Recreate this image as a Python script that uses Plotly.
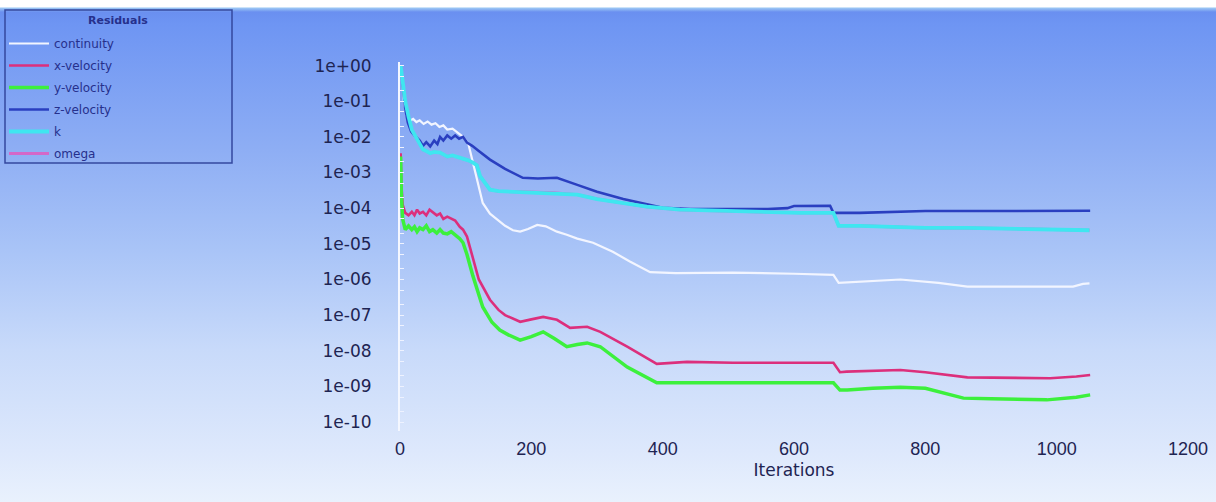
import base64
import plotly.graph_objects as go

# ---------------- data ----------------
continuity_x = [1, 3, 6, 10, 15, 20, 25, 30, 36, 42, 48, 54, 60, 66, 72, 80, 88, 96, 104, 111, 118, 126,
                137, 148, 160, 172, 183, 195, 209, 222, 239, 254, 270, 294, 324, 350, 381, 420, 507, 600,
                660, 668, 700, 762, 820, 864, 950, 1025, 1040, 1050]
continuity_y = [1.0, 4e-1, 1.0e-1, 4.0e-2, 2.8e-2, 3.2e-2, 2.6e-2, 2.9e-2, 2.3e-2, 2.7e-2, 2.2e-2, 2.4e-2,
                1.9e-2, 2.1e-2, 1.6e-2, 1.7e-2, 1.3e-2, 1.0e-2, 6.5e-3, 1.9e-3, 5.0e-4, 1.4e-4, 7.0e-5,
                4.7e-5, 3.2e-5, 2.4e-5, 2.2e-5, 2.6e-5, 3.4e-5, 3.1e-5, 2.2e-5, 1.8e-5, 1.4e-5, 1.07e-5,
                6.0e-6, 3.2e-6, 1.6e-6, 1.5e-6, 1.55e-6, 1.45e-6, 1.35e-6, 8.0e-7, 8.5e-7, 1.0e-6, 8.0e-7,
                6.3e-7, 6.3e-7, 6.3e-7, 7.5e-7, 7.8e-7]

xvel_x = [0, 1, 2, 4, 8, 13, 18, 22, 26, 30, 35, 40, 45, 50, 56, 61, 66, 72, 78, 84, 91, 96, 102, 111, 120,
          137, 150, 160, 183, 200, 218, 239, 259, 285, 305, 346, 391, 437, 507, 600, 660, 670, 680, 762,
          800, 864, 990, 1030, 1051]
xvel_y = [3.2e-3, 3.2e-3, 5.0e-4, 1.26e-4, 7.4e-5, 6.3e-5, 7.9e-5, 6.3e-5, 9.1e-5, 7.1e-5, 7.9e-5, 6.3e-5,
          9.1e-5, 7.9e-5, 6.3e-5, 7.1e-5, 5.0e-5, 5.8e-5, 5.0e-5, 4.5e-5, 3.0e-5, 2.5e-5, 1.6e-5, 4.3e-6,
          1.0e-6, 2.7e-7, 1.4e-7, 1.0e-7, 6.5e-8, 7.6e-8, 8.9e-8, 7.4e-8, 4.4e-8, 4.7e-8, 3.4e-8, 1.3e-8,
          4.3e-9, 4.9e-9, 4.6e-9, 4.6e-9, 4.6e-9, 2.5e-9, 2.6e-9, 2.9e-9, 2.5e-9, 1.8e-9, 1.7e-9, 1.9e-9,
          2.1e-9]

yvel_x = [0, 1, 2, 4, 8, 13, 18, 22, 26, 30, 35, 40, 45, 50, 56, 61, 66, 72, 78, 84, 91, 96, 102, 111, 126,
          140, 152, 165, 183, 200, 218, 235, 254, 270, 285, 305, 346, 391, 426, 507, 600, 660, 670, 681,
          720, 762, 800, 858, 900, 985, 1030, 1051]
yvel_y = [2.5e-3, 2.5e-3, 2.5e-4, 5.0e-5, 2.5e-5, 3.2e-5, 2.5e-5, 3.0e-5, 2.2e-5, 2.8e-5, 2.5e-5, 3.2e-5,
          2.2e-5, 2.5e-5, 2.0e-5, 2.5e-5, 2.0e-5, 1.9e-5, 2.2e-5, 1.8e-5, 1.4e-5, 1.07e-5, 5.0e-6, 1.26e-6,
          1.7e-7, 6.3e-8, 3.8e-8, 2.8e-8, 2.0e-8, 2.5e-8, 3.4e-8, 2.2e-8, 1.3e-8, 1.5e-8, 1.66e-8, 1.3e-8,
          3.5e-9, 1.26e-9, 1.26e-9, 1.26e-9, 1.26e-9, 1.26e-9, 7.9e-10, 7.9e-10, 8.9e-10, 9.5e-10, 8.9e-10,
          4.7e-10, 4.5e-10, 4.2e-10, 5.0e-10, 5.8e-10]

zvel_x = [1, 4, 8, 12, 17, 22, 26, 30, 35, 40, 46, 52, 57, 61, 66, 72, 78, 84, 90, 96, 102, 110, 120, 137,
          160, 187, 210, 239, 270, 300, 340, 376, 400, 442, 500, 560, 590, 600, 655, 660, 700, 736, 800,
          900, 960, 1000, 1051]
zvel_y = [1.0, 3.2e-1, 6.3e-2, 2.5e-2, 1.4e-2, 1.1e-2, 9.5e-3, 7.9e-3, 5.6e-3, 7.1e-3, 5.4e-3, 7.9e-3,
          6.3e-3, 1.0e-2, 7.9e-3, 1.1e-2, 8.9e-3, 1.1e-2, 8.9e-3, 1.0e-2, 6.9e-3, 5.6e-3, 4.0e-3, 2.3e-3,
          1.26e-3, 7.1e-4, 6.8e-4, 7.1e-4, 4.5e-4, 2.9e-4, 1.8e-4, 1.26e-4, 1.02e-4, 9.5e-5, 9.3e-5,
          9.5e-5, 1.0e-4, 1.15e-4, 1.17e-4, 7.4e-5, 7.4e-5, 7.6e-5, 8.3e-5, 8.3e-5, 8.5e-5, 8.5e-5, 8.5e-5]

k_x = [1, 4, 8, 13, 18, 24, 30, 35, 40, 46, 52, 61, 72, 80, 87, 96, 104, 111, 117, 122, 130, 137, 150, 172,
       200, 233, 270, 300, 340, 376, 426, 500, 560, 609, 660, 668, 700, 800, 864, 950, 1031, 1050]
k_y = [1.0, 4.0e-1, 1.0e-1, 3.7e-2, 1.6e-2, 1.0e-2, 6.3e-3, 4.4e-3, 4.0e-3, 3.5e-3, 3.8e-3, 3.6e-3, 2.8e-3,
       3.0e-3, 2.75e-3, 2.5e-3, 2.2e-3, 1.9e-3, 1.6e-3, 7.9e-4, 5.0e-4, 3.3e-4, 3.0e-4, 2.9e-4, 2.8e-4,
       2.7e-4, 2.4e-4, 1.8e-4, 1.4e-4, 1.1e-4, 9.1e-5, 8.3e-5, 7.9e-5, 7.4e-5, 7.4e-5, 3.2e-5, 3.2e-5,
       2.8e-5, 2.8e-5, 2.6e-5, 2.45e-5, 2.4e-5]

omega_x = [1, 4, 8, 13, 18, 24, 30, 35, 40, 46, 52, 61, 72, 80, 87, 96, 104, 111, 117, 122, 130, 137, 150,
           172, 200, 233, 270, 300, 340, 376, 426, 500, 560, 609, 660, 668, 700, 800, 864, 950, 1031, 1050]
omega_y = [1.0, 4.0e-1, 1.0e-1, 3.7e-2, 1.6e-2, 1.0e-2, 6.3e-3, 4.4e-3, 4.0e-3, 3.5e-3, 3.8e-3, 3.6e-3,
           2.8e-3, 3.0e-3, 2.75e-3, 2.5e-3, 2.2e-3, 1.9e-3, 1.6e-3, 7.9e-4, 5.0e-4, 3.3e-4, 3.0e-4, 2.9e-4,
           2.8e-4, 2.7e-4, 2.4e-4, 1.8e-4, 1.4e-4, 1.1e-4, 9.1e-5, 8.3e-5, 7.9e-5, 7.4e-5, 7.4e-5, 3.2e-5,
           3.2e-5, 2.8e-5, 2.8e-5, 2.6e-5, 2.45e-5, 2.4e-5]

y_tickvals = [1e0, 1e-1, 1e-2, 1e-3, 1e-4, 1e-5, 1e-6, 1e-7, 1e-8, 1e-9, 1e-10]
y_ticktext = ["1e+00", "1e-01", "1e-02", "1e-03", "1e-04", "1e-05", "1e-06", "1e-07", "1e-08", "1e-09", "1e-10"]
x_tickvals = [0, 200, 400, 600, 800, 1000, 1200]

# ---------------- layout geometry ----------------
W, H = 1216, 502
ML, MR, MT, MB = 400, 28, 62, 71
PW, PH = W - ML - MR, H - MT - MB


def px_x(p):
    return (p - ML) / PW


def px_y(p):
    return 1 - (p - MT) / PH


# gradient background as an inline SVG image
svg = f'''<svg xmlns="http://www.w3.org/2000/svg" width="{W}" height="{H}" preserveAspectRatio="none">
<defs><linearGradient id="g" x1="0" y1="0" x2="0" y2="1">
<stop offset="0" stop-color="#ffffff"/>
<stop offset="{7/H:.4f}" stop-color="#ffffff"/>
<stop offset="{8/H:.4f}" stop-color="#9cc8f4"/>
<stop offset="{12/H:.4f}" stop-color="#6a8ff0"/>
<stop offset="{24/H:.4f}" stop-color="#6e95f3"/>
<stop offset="{150/H:.4f}" stop-color="#8eaef4"/>
<stop offset="{250/H:.4f}" stop-color="#a9c4f7"/>
<stop offset="{350/H:.4f}" stop-color="#c8dafa"/>
<stop offset="{450/H:.4f}" stop-color="#dde8fc"/>
<stop offset="1" stop-color="#e9f1fd"/>
</linearGradient></defs>
<rect x="0" y="0" width="{W}" height="{H}" fill="url(#g)"/>
</svg>'''
bg_uri = "data:image/svg+xml;base64," + base64.b64encode(svg.encode()).decode()

fig = go.Figure()

series = [
    ("omega", omega_x, omega_y, "#d468c8", 3),
    ("continuity", continuity_x, continuity_y, "#f2f5ff", 2.2),
    ("x-velocity", xvel_x, xvel_y, "#dc2f7c", 2.6),
    ("y-velocity", yvel_x, yvel_y, "#3cf03c", 3.5),
    ("z-velocity", zvel_x, zvel_y, "#2a3fc0", 2.6),
    ("k", k_x, k_y, "#3fe6f0", 3.8),
]
legend_rank = {"continuity": 1, "x-velocity": 2, "y-velocity": 3, "z-velocity": 4, "k": 5, "omega": 6}
for name, xs, ys, color, w in series:
    fig.add_trace(go.Scatter(x=xs, y=ys, mode="lines", name=name,
                             line=dict(color=color, width=w),
                             legendgroup=name, legendrank=legend_rank[name]))

legend_font = "DejaVu Sans, Liberation Sans, Arial, sans-serif"
label_font = "DejaVu Sans, Liberation Sans, Arial, sans-serif"
fig.update_layout(
    width=W, height=H,
    margin=dict(l=ML, r=MR, t=MT, b=MB, pad=0, autoexpand=False),
    paper_bgcolor="#ffffff",
    plot_bgcolor="rgba(0,0,0,0)",
    images=[dict(source=bg_uri, xref="paper", yref="paper",
                 x=-ML / PW, y=1 + MT / PH, sizex=W / PW, sizey=H / PH,
                 xanchor="left", yanchor="top", sizing="stretch", layer="below")],
    shapes=[dict(type="rect", xref="paper", yref="paper",
                 x0=px_x(5), x1=px_x(232), y0=px_y(163), y1=px_y(10),
                 line=dict(color="#34489e", width=1.5), fillcolor="rgba(0,0,0,0)", layer="below")],
    annotations=[dict(text="<b>Residuals</b>", xref="paper", yref="paper",
                      x=px_x(118), y=px_y(21), xanchor="center", yanchor="middle", showarrow=False,
                      font=dict(size=11, color="#26308c", family=legend_font))],
    font=dict(family="Liberation Sans, Arial, sans-serif", color="#1e2452"),
    showlegend=True,
    legend=dict(
        xref="container", yref="container",
        x=4 / W, y=1 - 29 / H, xanchor="left", yanchor="top",
        bgcolor="rgba(0,0,0,0)", borderwidth=0,
        font=dict(size=12, color="#26308c", family=legend_font),
        itemwidth=40, tracegroupgap=3,
    ),
    xaxis=dict(
        range=[0, 1200], tickvals=x_tickvals, ticks="", showgrid=False, zeroline=False,
        showline=False, ticklabelstandoff=5,
        tickfont=dict(size=18, family="Liberation Sans, Arial", color="#1e2452"),
        title=dict(text="Iterations", standoff=6,
                   font=dict(size=17, family=label_font, color="#1e2452")),
    ),
    yaxis=dict(
        type="log", range=[-10.25, 0.1], tickvals=y_tickvals, ticktext=y_ticktext,
        ticks="", showgrid=False, zeroline=False,
        showline=True, linecolor="#f4f7ff", linewidth=2,
        ticklabelstandoff=23,
        tickfont=dict(size=17, color="#1e2452", family=label_font),
        minor=dict(ticks="inside", ticklen=4, tickcolor="#eef2ff", showgrid=False),
    ),
)

fig.write_html("out.html")
